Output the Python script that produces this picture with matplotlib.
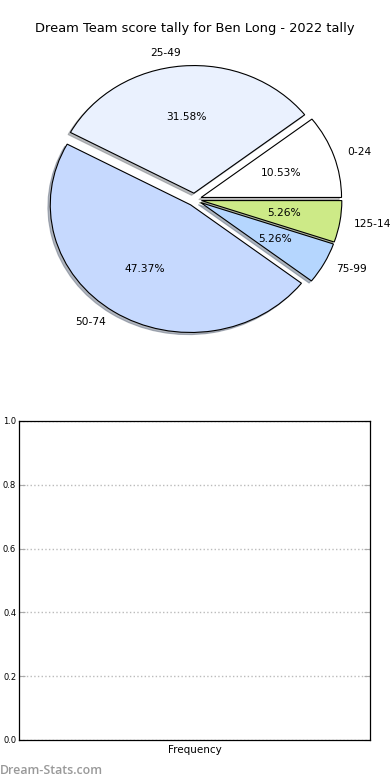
import matplotlib
matplotlib.use("Agg")
import matplotlib.pyplot as plt

title = "Dream Team score tally for Ben Long - 2022 tally"
categories = ["0-24", "25-49", "50-74", "75-99", "125-149"]
counts = [2, 6, 9, 1, 1]
colors = ["#ffffff", "#eaf1fe", "#c6d9fe", "#b5d6fe", "#cdea87"]
yticks = [0.0, 0.2, 0.4, 0.6, 0.8, 1.0]
xcat = ["Frequency"]

fig = plt.figure(figsize=(3.9, 7.8), dpi=100)

ax1 = fig.add_axes([0.0487, 0.5397, 0.9, 0.409])
wedges, texts, autotexts = ax1.pie(
    counts, labels=categories, colors=colors, explode=[0.05] * len(counts),
    autopct="%1.2f%%", shadow={"ox": -0.012, "oy": -0.012, "shade": 0.5},
    startangle=0,
    wedgeprops=dict(edgecolor="black", linewidth=0.8),
    textprops=dict(fontsize=7.7),
)
ax1.set_aspect("auto")
ax1.set_xlim(-1.25, 1.25)
ax1.set_ylim(-1.25, 1.25)
for t in texts:
    t.set_clip_on(False)
ax1.set_title(title, fontsize=9.4, pad=6)

ax2 = fig.add_axes([0.0487, 0.0513, 0.9, 0.409])
ax2.set_ylim(0, 1)
ax2.set_xlim(-0.5, 0.5)
ax2.set_yticks(yticks)
ax2.set_yticklabels([f"{v:.1f}" for v in yticks], fontsize=6)
ax2.set_xticks([0])
ax2.set_xticklabels(xcat, fontsize=7.5)
ax2.tick_params(axis="x", length=0, pad=3.5)
ax2.tick_params(axis="y", direction="in", length=4, color="#aaaaaa", right=True, pad=2)
ax2.yaxis.grid(True, linestyle=":", color="#bbbbbb", linewidth=1)
for s in ax2.spines.values():
    s.set_linewidth(0.9)

fig.text(0.0, 0.004, "Dream-Stats.com", fontsize=8.9, color="#999999",
         family="Open Sans", fontweight="semibold", ha="left", va="bottom")

fig.savefig("out.png", dpi=100)
